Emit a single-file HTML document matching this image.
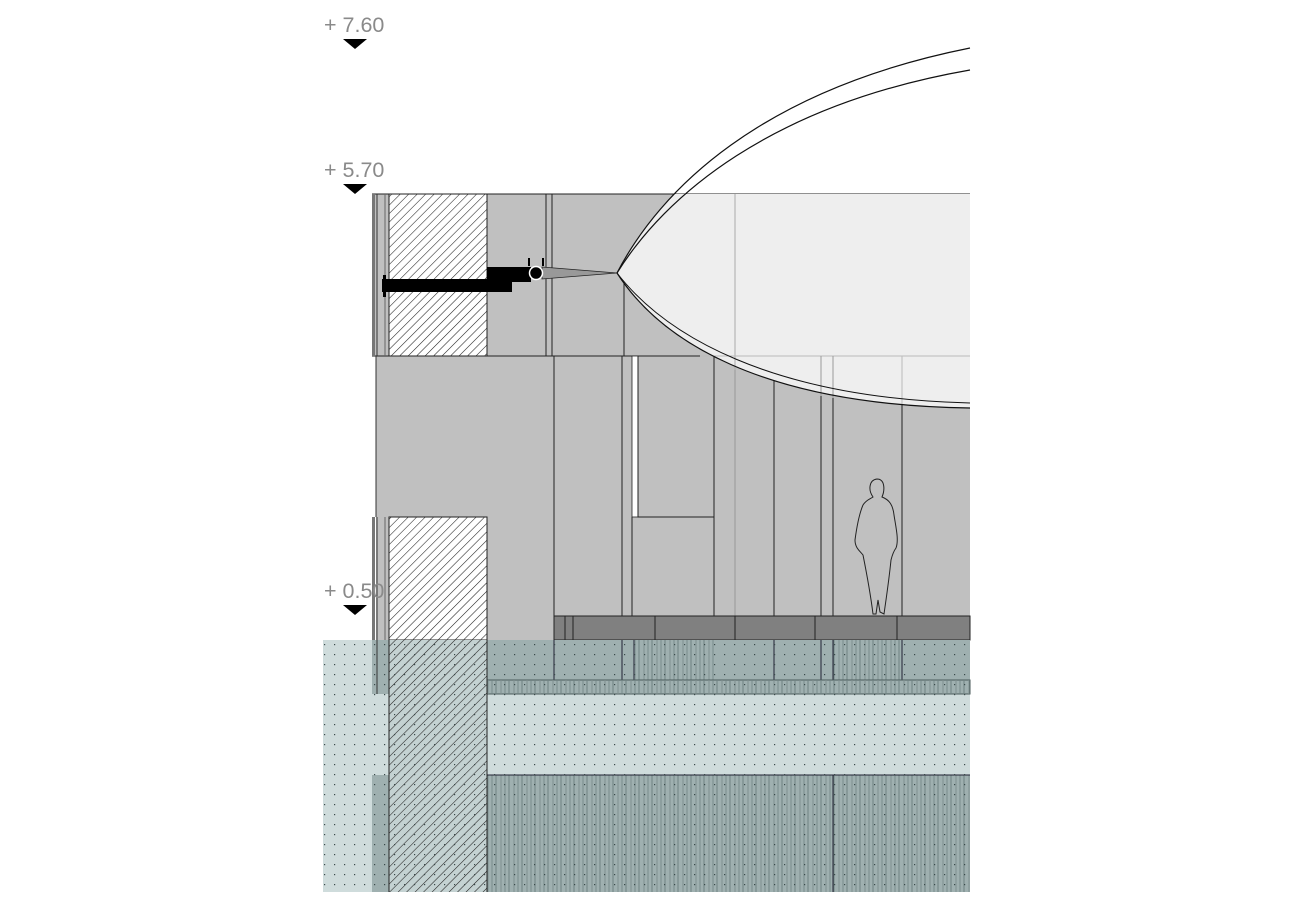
<!DOCTYPE html>
<html><head><meta charset="utf-8"><style>
html,body{margin:0;padding:0;background:#fff;}
svg{display:block;}
text{font-family:"Liberation Sans",sans-serif;font-size:21.5px;fill:#8a8a8a;}
</style></head><body>
<svg width="1292" height="906" viewBox="0 0 1292 906" xmlns="http://www.w3.org/2000/svg">
<defs>
<pattern id="hatch" width="6" height="6" patternUnits="userSpaceOnUse" patternTransform="rotate(45)">
<rect width="6" height="6" fill="#fff"/><line x1="0" y1="0" x2="0" y2="6" stroke="#222" stroke-width="1.1"/>
</pattern>
<pattern id="hatch2" width="6" height="6" patternUnits="userSpaceOnUse" patternTransform="rotate(45)">
<rect width="6" height="6" fill="#c4d2d2"/><line x1="0" y1="0" x2="0" y2="6" stroke="#222" stroke-width="1.1"/>
</pattern>
<pattern id="dots" width="10" height="10" patternUnits="userSpaceOnUse">
<rect x="4" y="4" width="1.2" height="1.2" fill="#3a4a4a"/>
</pattern>
<pattern id="vl" width="13" height="10" patternUnits="userSpaceOnUse">
<line x1="2" y1="0" x2="2" y2="10" stroke="#6f8282" stroke-width="1"/>
<line x1="7" y1="0" x2="7" y2="10" stroke="#7f9090" stroke-width="1"/>
<line x1="11" y1="0" x2="11" y2="10" stroke="#6f8282" stroke-width="0.8"/>
</pattern>
<clipPath id="below194"><rect x="0" y="194" width="971" height="700"/></clipPath>
</defs>

<rect x="372" y="194" width="598" height="162" fill="#c0c0c0"/>
<rect x="376" y="356" width="594" height="284" fill="#c0c0c0"/>

<!-- top section lines -->
<line x1="372" y1="194" x2="970" y2="194" stroke="#222" stroke-width="1"/>
<line x1="372" y1="356" x2="970" y2="356" stroke="#222" stroke-width="1"/>
<line x1="546" y1="194" x2="546" y2="356" stroke="#222"/>
<line x1="552" y1="194" x2="552" y2="356" stroke="#222"/>
<line x1="624" y1="280" x2="624" y2="356" stroke="#222"/>

<!-- middle section lines -->
<line x1="554" y1="356" x2="554" y2="640" stroke="#222"/>
<line x1="622" y1="356" x2="622" y2="616" stroke="#222"/>
<rect x="632" y="356" width="6" height="161" fill="#fff" stroke="#222" stroke-width="0.8"/>
<rect x="638" y="356" width="76" height="161" fill="#c0c0c0" stroke="#222"/>
<line x1="632" y1="517" x2="632" y2="616" stroke="#222"/>
<line x1="714" y1="517" x2="714" y2="616" stroke="#222"/>
<line x1="735" y1="370" x2="735" y2="616" stroke="#999"/>
<line x1="774" y1="380" x2="774" y2="616" stroke="#222"/>
<line x1="821" y1="356" x2="821" y2="616" stroke="#222"/>
<line x1="833" y1="356" x2="833" y2="616" stroke="#222"/>
<line x1="902" y1="356" x2="902" y2="616" stroke="#222"/>

<!-- balloon fill -->
<path d="M617,273 C660,190 760,90 970,48 L970,408 C760,405 660,340 617,273 Z" fill="#eeeeee" clip-path="url(#below194)"/>
<line x1="735" y1="194" x2="735" y2="370" stroke="#aaa"/>
<line x1="700" y1="356" x2="970" y2="356" stroke="#bbb"/>
<line x1="821" y1="356" x2="821" y2="396" stroke="#999"/>
<line x1="833" y1="356" x2="833" y2="398" stroke="#999"/>
<line x1="902" y1="356" x2="902" y2="405" stroke="#bbb"/>

<!-- left layers -->
<rect x="372" y="194" width="3" height="162" fill="#777"/>
<line x1="377" y1="194" x2="377" y2="356" stroke="#333"/>
<line x1="385" y1="194" x2="385" y2="356" stroke="#666"/>
<line x1="389" y1="194" x2="389" y2="356" stroke="#333"/>
<rect x="389" y="194" width="98" height="162" fill="url(#hatch)" stroke="#222"/>
<line x1="376" y1="356" x2="376" y2="517" stroke="#333"/>

<!-- bracket -->
<rect x="382" y="279" width="130" height="13" fill="#000"/>
<rect x="383" y="275" width="3" height="22" fill="#000"/>
<rect x="487" y="267" width="44" height="15" fill="#000"/>
<rect x="528" y="258" width="2" height="8" fill="#000"/>
<rect x="542" y="258" width="2" height="8" fill="#000"/>
<path d="M542,267 L617,273 L542,279 Z" fill="#999" stroke="#222" stroke-width="0.8"/>
<circle cx="536" cy="273" r="6.5" fill="#000" stroke="#fff" stroke-width="1.5"/>

<!-- balloon curves -->
<path d="M617,273 C660,190 760,90 970,48" fill="none" stroke="#111" stroke-width="1.2"/>
<path d="M617,273 C665,196 770,105 970,70" fill="none" stroke="#111" stroke-width="1.2"/>
<path d="M617,273 C660,340 760,405 970,408" fill="none" stroke="#111" stroke-width="1.2"/>
<path d="M617,273 C665,335 770,398 970,403" fill="none" stroke="#111" stroke-width="1"/>

<!-- person -->
<path d="M873,497 C868,490 869,480 877,479 C885,479 885,490 882,497 C890,500 893,506 894,515 C896,528 899,540 896,548 C893,552 892,556 891,560 C889,580 886,600 884,614 L880,612 L878,600 L876,614 L873,614 C870,590 866,570 863,555 C860,551 855,548 855,540 C857,525 860,512 863,505 C866,500 870,499 873,497 Z" fill="none" stroke="#222" stroke-width="1"/>

<!-- lower left wall -->
<rect x="372" y="517" width="3" height="177" fill="#777"/>
<line x1="377" y1="517" x2="377" y2="694" stroke="#333"/>
<line x1="385" y1="517" x2="385" y2="694" stroke="#666"/>
<rect x="389" y="517" width="98" height="123" fill="url(#hatch)" stroke="#222"/>

<!-- floor band -->
<rect x="554" y="616" width="416" height="24" fill="#808080" stroke="#222"/>
<line x1="565" y1="616" x2="565" y2="640" stroke="#222"/>
<line x1="573" y1="616" x2="573" y2="640" stroke="#222"/>
<line x1="655" y1="616" x2="655" y2="640" stroke="#222"/>
<line x1="735" y1="616" x2="735" y2="640" stroke="#222"/>
<line x1="815" y1="616" x2="815" y2="640" stroke="#222"/>
<line x1="897" y1="616" x2="897" y2="640" stroke="#222"/>

<!-- water / ground -->
<rect x="323" y="640" width="647" height="252" fill="#cfdcdc"/>
<rect x="487" y="640" width="483" height="40" fill="#9fb0b0"/>
<rect x="635" y="640" width="80" height="40" fill="url(#vl)"/>
<rect x="833" y="640" width="68" height="40" fill="url(#vl)"/>
<line x1="554" y1="640" x2="554" y2="680" stroke="#223"/>
<line x1="622" y1="640" x2="622" y2="680" stroke="#223"/>
<line x1="634" y1="640" x2="634" y2="680" stroke="#223"/>
<line x1="774" y1="640" x2="774" y2="680" stroke="#223"/>
<line x1="821" y1="640" x2="821" y2="680" stroke="#223"/>
<line x1="833" y1="640" x2="833" y2="680" stroke="#223"/>
<line x1="902" y1="640" x2="902" y2="680" stroke="#223"/>
<rect x="487" y="680" width="483" height="14" fill="#9fb0b0" stroke="#4a5a5a"/>
<rect x="487" y="680" width="483" height="14" fill="url(#vl)"/>
<rect x="487" y="775" width="483" height="117" fill="#9fb0b0"/>
<rect x="487" y="775" width="483" height="117" fill="url(#vl)"/>
<line x1="487" y1="775" x2="970" y2="775" stroke="#223"/>
<line x1="833" y1="775" x2="833" y2="892" stroke="#223"/>
<rect x="372" y="640" width="17" height="54" fill="#9fb0b0"/>
<rect x="372" y="775" width="17" height="117" fill="#9fb0b0"/>
<line x1="377" y1="640" x2="377" y2="694" stroke="#333"/>
<rect x="389" y="640" width="98" height="252" fill="url(#hatch2)"/>
<rect x="323" y="640" width="647" height="252" fill="url(#dots)"/>
<line x1="487" y1="517" x2="487" y2="892" stroke="#222"/>
<line x1="389" y1="517" x2="389" y2="892" stroke="#222"/>

<!-- level marks -->
<text x="324" y="32">+ 7.60</text>
<polygon points="343,39 367,39 355,49" fill="#000"/>
<text x="324" y="177">+ 5.70</text>
<polygon points="343,184 367,184 355,194" fill="#000"/>
<text x="324" y="598">+ 0.50</text>
<polygon points="343,605 367,605 355,615" fill="#000"/>
</svg>
</body></html>
